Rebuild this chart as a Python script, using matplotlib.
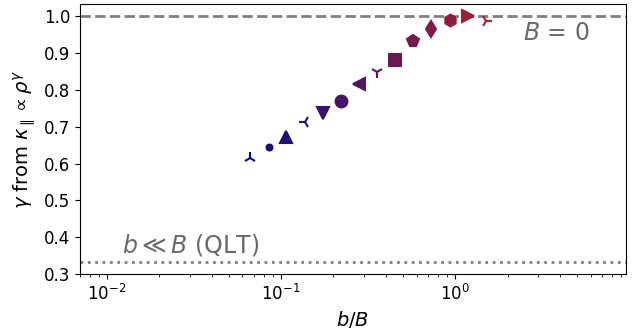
import numpy as np
import matplotlib
matplotlib.use('Agg')
import matplotlib.pyplot as plt
from matplotlib.colors import LinearSegmentedColormap

# b/B ratio and fitted exponent gamma
b_over_B = [0.066, 0.085, 0.107, 0.137, 0.174, 0.221, 0.279, 0.357,
            0.450, 0.575, 0.725, 0.930, 1.19, 1.50]
gamma = [0.614, 0.645, 0.671, 0.712, 0.738, 0.770, 0.815, 0.848,
         0.881, 0.933, 0.965, 0.990, 1.000, 0.988]
markers = ['2', '.', '^', '3', 'v', 'o', '<', '1', 's', 'p', 'd', 'h', '>', '4']

gamma_B0 = 1.0
gamma_qlt = 1.0 / 3.0

plt.rcParams['font.size'] = 12

fig = plt.figure(figsize=(6.39, 3.33), dpi=100)
ax = fig.add_axes([0.125, 0.177, 0.855, 0.811])

ax.axhline(gamma_B0, color='grey', ls='--', lw=2, zorder=1)
ax.axhline(gamma_qlt, color='grey', ls=':', lw=2, zorder=1)

cmap = LinearSegmentedColormap.from_list('nb', ['#0a0a8c', '#a5232f'])
n = len(b_over_B)
for i in range(n):
    c = cmap(i / (n - 1))
    ax.plot(b_over_B[i], gamma[i], marker=markers[i], color=c, ms=8.5,
            mew=1.5, ls='none', zorder=3)

ax.text(2.45, 0.955, r'$B$ = 0', color='dimgrey', fontsize=17, va='center')
ax.text(0.0122, 0.379, r'$b{\ll}B$ (QLT)', color='dimgrey', fontsize=17, va='center')

ax.set_xscale('log')
ax.set_xlim(7e-3, 9.6)
ax.set_ylim(0.3, 1.033)
ax.set_xlabel(r'$b/B$', fontsize=14)
ax.set_ylabel(r'$\gamma$ from $\kappa_\parallel \propto \rho^\gamma$', fontsize=14)

fig.savefig('out.png', dpi=100)
